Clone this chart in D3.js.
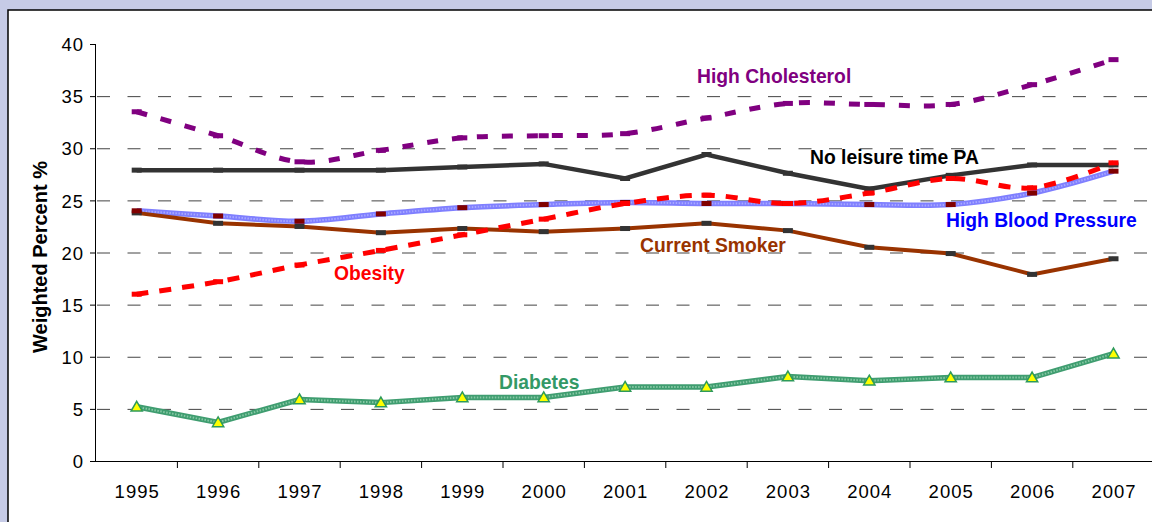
<!DOCTYPE html>
<html><head><meta charset="utf-8">
<script src="https://cdn.jsdelivr.net/npm/d3@7"></script>
<style>
html,body{margin:0;padding:0;background:#c6cbe6;}
svg{display:block;}
text{font-family:"Liberation Sans",Arial,sans-serif;}
</style></head>
<body>
<svg id="chart" width="1152" height="522"></svg>
<script>
const years = ["1995","1996","1997","1998","1999","2000","2001","2002","2003","2004","2005","2006","2007"];
const yTicks = [0,5,10,15,20,25,30,35,40];
const highCholesterol = [33.5,31.2,28.7,29.8,31.0,31.2,31.4,32.9,34.3,34.2,34.2,36.1,38.5];
const noLeisurePA = [27.9,27.9,27.9,27.9,28.2,28.5,27.1,29.4,27.6,26.1,27.4,28.4,28.4];
const highBloodPressure = [24.0,23.5,23.0,23.7,24.3,24.6,24.8,24.7,24.7,24.6,24.6,25.7,27.8];
const obesity = [16.0,17.2,18.8,20.2,21.7,23.2,24.7,25.5,24.7,25.7,27.1,26.2,28.6];
const currentSmoker = [23.8,22.8,22.5,21.9,22.3,22.0,22.3,22.8,22.1,20.5,19.9,17.9,19.4];
const diabetes = [5.2,3.7,5.9,5.6,6.1,6.1,7.1,7.1,8.1,7.7,8.0,8.0,10.3];

const svg = d3.select("#chart");
// white panel
svg.append("rect").attr("x",8).attr("y",10).attr("width",1160).attr("height",530)
  .attr("fill","#fff").attr("stroke","#000").attr("stroke-width",1.5);

const mLeft = 96, mTop = 44, mBottom = 461;
const step = 81.4;
const x = d3.scaleBand().domain(years).range([mLeft, mLeft + step*years.length]).padding(0);
const y = d3.scaleLinear().domain([0,40]).range([mBottom, mTop]);
const cx = d => x(d) + x.bandwidth()/2;

// gridlines
svg.append("g").selectAll("line").data(yTicks.filter(t => t>0 && t<40)).join("line")
  .attr("x1", mLeft).attr("x2", 1152).attr("y1", d=>y(d)+0.5).attr("y2", d=>y(d)+0.5)
  .attr("stroke","#444").attr("stroke-width",1).attr("stroke-dasharray","13,17.5")
  .attr("stroke-dashoffset", -1);

// y axis
const yAxis = svg.append("g").attr("transform",`translate(${mLeft},0)`)
  .call(d3.axisLeft(y).tickValues(yTicks).tickSize(6).tickPadding(6).tickFormat(d3.format("d")));
yAxis.select(".domain").attr("stroke","#000").attr("d", `M-0.5,${mTop}V${mBottom}`);
yAxis.selectAll(".tick line").attr("stroke","#000");
yAxis.selectAll("text").attr("font-size","18.5px").attr("fill","#000").attr("dy","0.36em")
  .attr("letter-spacing","1px");

// x axis
const xAxis = svg.append("g").attr("transform",`translate(0,${mBottom})`)
  .call(d3.axisBottom(x).tickSize(0).tickPadding(24));
xAxis.select(".domain").attr("stroke","#000").attr("d", `M${mLeft},0.5H1152`);
xAxis.selectAll("text").attr("font-size","18.5px").attr("fill","#000")
  .attr("letter-spacing","1px").attr("dx","0.5px");
svg.append("g").selectAll("line").data(years).join("line")
  .attr("x1",(d,i)=>mLeft + step*(i+1)).attr("x2",(d,i)=>mLeft + step*(i+1))
  .attr("y1",mBottom).attr("y2",mBottom+7).attr("stroke","#000");

// y title
svg.append("text").attr("transform","translate(47,257) rotate(-90)")
  .attr("text-anchor","middle").attr("font-size","20px").attr("font-weight","bold")
  .text("Weighted Percent %");

function pts(arr){ return arr.map((v,i)=>[cx(years[i]), y(v)]); }
const lin = d3.line();
const smooth = d3.line().curve(d3.curveCatmullRom.alpha(0.5));

// High Blood Pressure
svg.append("path").attr("d", smooth(pts(highBloodPressure))).attr("fill","none")
  .attr("stroke","#7f7fff").attr("stroke-width",5.5);
svg.append("path").attr("d", smooth(pts(highBloodPressure))).attr("fill","none")
  .attr("stroke","#a8a8ff").attr("stroke-width",2).attr("stroke-dasharray","1.5,1.5");
// Current Smoker
svg.append("path").attr("d", lin(pts(currentSmoker))).attr("fill","none")
  .attr("stroke","#993300").attr("stroke-width",4);
// No leisure
svg.append("path").attr("d", lin(pts(noLeisurePA))).attr("fill","none")
  .attr("stroke","#333").attr("stroke-width",4.5);
// Obesity
svg.append("path").attr("d", smooth(pts(obesity))).attr("fill","none")
  .attr("stroke","#ff0000").attr("stroke-width",5).attr("stroke-dasharray","12,11");
// High Cholesterol
svg.append("path").attr("d", smooth(pts(highCholesterol))).attr("fill","none")
  .attr("stroke","#800080").attr("stroke-width",5).attr("stroke-dasharray","11,14");
// Diabetes
svg.append("path").attr("d", lin(pts(diabetes))).attr("fill","none")
  .attr("stroke","#3f9d70").attr("stroke-width",5.5);
svg.append("path").attr("d", lin(pts(diabetes))).attr("fill","none")
  .attr("stroke","#86c8a4").attr("stroke-width",2).attr("stroke-dasharray","1.5,1.5");

// markers
function rects(arr, color, w, h){
  svg.append("g").selectAll("rect").data(pts(arr)).join("rect")
    .attr("x",d=>d[0]-w/2).attr("y",d=>d[1]-h/2).attr("width",w).attr("height",h).attr("fill",color);
}
rects(currentSmoker, "#333", 10, 5);
rects(highBloodPressure, "#800000", 10, 5);
rects(noLeisurePA, "#333", 10, 5);
rects(obesity, "#ff0000", 10, 5);
rects(highCholesterol, "#800080", 10, 5);
svg.append("g").selectAll("path").data(pts(diabetes)).join("path")
  .attr("d", d3.symbol().type(d3.symbolTriangle).size(55))
  .attr("transform", d=>`translate(${d[0]},${d[1]+1})`)
  .attr("fill","#ffff00").attr("stroke","#2e9a5a").attr("stroke-width",1.5);

// labels
const labels = [
  {t:"High Cholesterol", x:697, y:83, c:"#800080"},
  {t:"No leisure time PA", x:810, y:164, c:"#000"},
  {t:"High Blood Pressure", x:946, y:227, c:"#0000ff"},
  {t:"Current Smoker", x:640, y:252, c:"#993300"},
  {t:"Obesity", x:334, y:280, c:"#ff0000"},
  {t:"Diabetes", x:499, y:389, c:"#339966"}
];
svg.append("g").selectAll("text").data(labels).join("text")
  .attr("x",d=>d.x).attr("y",d=>d.y).attr("fill",d=>d.c)
  .attr("font-size","19.3px").attr("font-weight","bold").text(d=>d.t);
</script>
</body></html>
